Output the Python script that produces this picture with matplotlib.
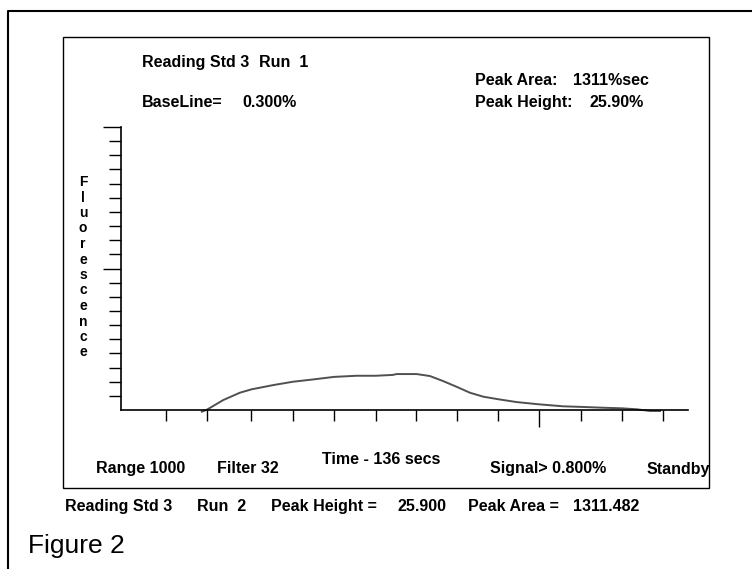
import matplotlib
matplotlib.use("Agg")
import matplotlib.pyplot as plt
from matplotlib.lines import Line2D
from matplotlib.patches import Rectangle

# ---- data ----
time_s = [19.4, 20.6, 24.5, 28.5, 31.3, 36.5, 41.3, 46.1, 51.1, 56.5, 61.1, 65.2, 66.1,
          70.9, 74.1, 77.3, 80.5, 83.7, 86.9, 90.5, 94.9, 100.3, 106.1, 110.3, 115.7,
          120.1, 123.7, 126.9, 129.3]
fluor = [-0.6, 0.1, 3.5, 6.1, 7.3, 8.8, 10.0, 10.8, 11.7, 12.1, 12.1, 12.4, 12.7,
         12.7, 12.0, 10.2, 8.2, 6.1, 4.7, 3.8, 2.8, 2.0, 1.3, 1.1, 0.8,
         0.6, 0.25, -0.35, -0.35]
x_minor_ticks = [10.8, 20.7, 31.3, 41.3, 51.2, 61.1, 70.8, 80.5, 90.5, 110.3, 120.1, 129.9]
x_major_ticks = [100.3]
y_major_ticks = [50, 100]
y_minor_ticks = [5, 10, 15, 20, 25, 30, 35, 40, 45, 55, 60, 65, 70, 75, 80, 85, 90, 95]
y_label_letters = list("Fluorescence")

W, H = 752, 569
fig = plt.figure(figsize=(W / 100, H / 100), dpi=100)
fig.patch.set_facecolor("white")


def fx(x):
    return x / W


def fy(y):
    return 1 - y / H


# outer frame (left + top)
fig.add_artist(Line2D([fx(8), fx(8), fx(752)], [fy(569), fy(11), fy(11)],
                      transform=fig.transFigure, color="black", lw=1.5))
# inner box
fig.add_artist(Rectangle((fx(62.5), fy(488)), fx(709) - fx(62.5), fy(37) - fy(488),
                         transform=fig.transFigure, fill=False, edgecolor="black", lw=1.0))

ax = fig.add_axes([fx(121), fy(410), fx(688) - fx(121), fy(127) - fy(410)])
ax.set_xlim(0, 136)
ax.set_ylim(0, 100)
ax.patch.set_alpha(0)
for s in ["top", "right"]:
    ax.spines[s].set_visible(False)
for s in ["left", "bottom"]:
    ax.spines[s].set_linewidth(1.2)

ax.plot(time_s, fluor, color="#505050", lw=1.4, clip_on=False)

ax.set_xticks(x_major_ticks)
ax.set_xticks(x_minor_ticks, minor=True)
ax.set_yticks(y_major_ticks)
ax.set_yticks(y_minor_ticks, minor=True)
ax.tick_params(axis="x", which="major", direction="out", length=12.2, width=1.0, labelbottom=False)
ax.tick_params(axis="x", which="minor", direction="out", length=8.0, width=1.0)
ax.tick_params(axis="y", which="major", direction="out", length=13.0, width=1.0, labelleft=False)
ax.tick_params(axis="y", which="minor", direction="out", length=8.6, width=1.0)

FONT = "Liberation Sans"
BS = 11.5


def t(x, y, s, size=BS, weight="bold", ha="left"):
    fig.text(fx(x), fy(y), s, ha=ha, va="center_baseline", fontsize=size,
             fontweight=weight, family=FONT)


# top texts
t(142, 61, "Reading Std 3")
t(259, 61, "Run  1")
t(142, 101, "BaseLine=")
t(242, 101, "0.300%")
t(475, 79, "Peak Area:")
t(573, 79, "1311%sec")
t(475, 101, "Peak Height:")
t(590, 101, "25.90%")

# y label stacked letters
for i, ch in enumerate(y_label_letters):
    fig.text(fx(83), fy(182 + i * 15.5), ch, ha="center", va="center", fontsize=10,
             fontweight="bold", family=FONT)

# bottom texts inside box
t(96, 467, "Range 1000")
t(217, 467, "Filter 32")
t(322, 458, "Time - 136 secs")
t(490, 467, "Signal> 0.800%")
t(647, 468, "Standby")

# below box
t(65, 505, "Reading Std 3")
t(197, 505, "Run  2")
t(271, 505, "Peak Height =")
t(398, 505, "25.900")
t(468, 505, "Peak Area =")
t(573, 505, "1311.482")

fig.text(fx(28), fy(553), "Figure 2", ha="left", va="baseline", fontsize=19,
         family=FONT)

fig.savefig("out.png", dpi=100, facecolor="white")
